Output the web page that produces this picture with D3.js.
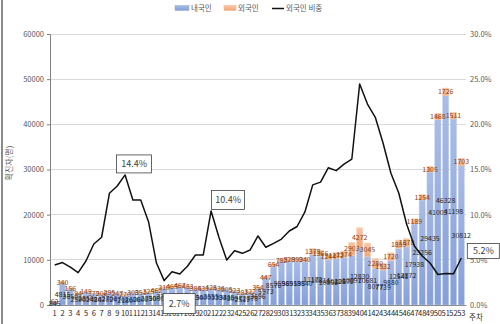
<!DOCTYPE html>
<html><head><meta charset="utf-8">
<script src="https://cdn.jsdelivr.net/npm/d3@7"></script>
<style>
html,body{margin:0;padding:0;background:#fff;}
svg{display:block;font-family:"Noto Sans CJK KR","Noto Sans",sans-serif;}
</style></head><body>
<svg id="c" width="500" height="324"></svg>
<script>
const weeks = d3.range(1, 54).map(String);
const domestic = [845,4815,3650,2590,2850,2480,2420,2700,2470,2180,2600,2600,2750,3080,3740,3820,4113,3797,3450,3400,3555,3394,3385,3097,2519,2778,3696,5973,8576,9558,9651,9588,9540,11172,10814,10056,10328,10576,10997,12830,10681,8077,7739,9880,12541,12872,17938,23256,29435,41003,46328,41198,30812];
const foreign = [62,340,156,94,149,179,206,295,247,270,308,351,325,462,310,465,467,483,385,431,425,436,305,223,281,322,354,447,654,782,829,892,940,1378,1366,1244,1272,1374,2903,4272,3045,2280,1532,1720,1859,1878,1189,1254,1305,1468,1726,1511,1703];
const ratio = [4.43,4.7,4.2,3.58,4.87,6.75,7.5,12.37,13.17,14.4,11.62,11.62,9.22,4.68,2.7,3.69,3.43,4.32,5.54,5.54,10.4,7.5,4.98,6.01,5.72,6.09,7.64,6.39,6.83,7.3,8.19,8.69,10.3,13.3,13.6,15.2,14.87,15.6,16.16,24.47,22.25,20.78,17.9,14.58,12.4,8.97,6.53,5.42,4.65,3.38,3.49,3.45,5.2];
const leftTicks = [0,10000,20000,30000,40000,50000,60000];
const rightTicks = [0,5,10,15,20,25,30];
const seriesNames = ["내국인","외국인","외국인 비중"];
const callouts = [{i:9,dx:9,dy:-11,w:35,h:18},{i:14,dx:15,dy:23,w:32,h:20},{i:20,dx:17,dy:-11,w:33,h:19},{i:52,dx:22,dy:-7,w:32,h:15}];

const svg = d3.select("#c");
const L=50,R=466,T=34,B=305;
const x = d3.scaleBand().domain(weeks).range([L,R]).padding(0.2);
const y = d3.scaleLinear().domain([0,60000]).range([B,T]);
const y2 = d3.scaleLinear().domain([0,30]).range([B,T]);

const defs = svg.append("defs");
const gb = defs.append("linearGradient").attr("id","gb").attr("x1",0).attr("y1",0).attr("x2",0).attr("y2",1);
gb.append("stop").attr("offset",0).attr("stop-color","#a9bce6");
gb.append("stop").attr("offset",1).attr("stop-color","#859fd8");
const go = defs.append("linearGradient").attr("id","go").attr("x1",0).attr("y1",0).attr("x2",0).attr("y2",1);
go.append("stop").attr("offset",0).attr("stop-color","#f8c6a4");
go.append("stop").attr("offset",1).attr("stop-color","#f1a676");

// frame line
svg.append("line").attr("x1",2).attr("x2",2).attr("y1",0).attr("y2",324).attr("stroke","#8c8c8c").attr("stroke-width",2);

// gridlines
svg.append("g").selectAll("line").data(leftTicks.slice(1)).join("line")
  .attr("x1",L).attr("x2",R).attr("y1",d=>y(d)).attr("y2",d=>y(d))
  .attr("stroke","#d9d9d9").attr("stroke-width",1).attr("shape-rendering","crispEdges");

// left axis
const ga = svg.append("g").attr("transform",`translate(${L},0)`)
  .call(d3.axisLeft(y).tickValues(leftTicks).tickSize(3).tickPadding(3).tickFormat(d3.format("d")));
ga.select(".domain").attr("stroke","#7f7f7f");
ga.selectAll(".tick line").attr("stroke","#7f7f7f");
ga.selectAll("text").attr("font-size","7.5px").attr("fill","#595959").attr("font-family","'Noto Sans CJK KR',sans-serif");

// right axis
const gr = svg.append("g").attr("transform",`translate(${R},0)`)
  .call(d3.axisRight(y2).tickValues(rightTicks).tickSize(0).tickPadding(4).tickFormat(d=>d.toFixed(1)+"%"));
gr.select(".domain").remove();
gr.selectAll("text").attr("font-size","7.5px").attr("fill","#595959").attr("font-family","'Noto Sans CJK KR',sans-serif");

// bars
const bars = svg.append("g");
bars.selectAll("rect.d").data(weeks).join("rect").attr("class","d")
  .attr("x",w=>x(w)).attr("width",x.bandwidth())
  .attr("y",(w,i)=>y(domestic[i])).attr("height",(w,i)=>y(0)-y(domestic[i]))
  .attr("fill","url(#gb)").attr("stroke","#c9d5ef").attr("stroke-width",0.4);
bars.selectAll("rect.f").data(weeks).join("rect").attr("class","f")
  .attr("x",w=>x(w)).attr("width",x.bandwidth())
  .attr("y",(w,i)=>y(domestic[i]+foreign[i])).attr("height",(w,i)=>y(domestic[i])-y(domestic[i]+foreign[i]))
  .attr("fill","url(#go)").attr("stroke","#f9d3b8").attr("stroke-width",0.4);

// x axis
const gx = svg.append("g").attr("transform",`translate(0,${B})`)
  .call(d3.axisBottom(x).tickSize(0).tickPadding(6));
gx.select(".domain").attr("stroke","#8c8c8c");
gx.selectAll("text").attr("font-size","7.5px").attr("fill","#262626").attr("font-family","'Noto Sans CJK KR',sans-serif");
svg.append("text").attr("x",R+3).attr("y",B+14.5).attr("font-size","7.5px").attr("fill","#262626").text("주차");

// labels
const lab = svg.append("g").attr("font-size","7px").attr("text-anchor","middle");
lab.selectAll("text.d").data(weeks).join("text").attr("class","d")
  .attr("x",w=>x(w)+x.bandwidth()/2).attr("y",(w,i)=>y(domestic[i]/2)+2.5)
  .attr("fill","#262626").text((w,i)=>domestic[i]);
lab.selectAll("text.f").data(weeks).join("text").attr("class","f")
  .attr("x",w=>x(w)+x.bandwidth()/2).attr("y",(w,i)=>y(domestic[i]+foreign[i]/2)+2.5)
  .attr("fill","#8a4316").text((w,i)=>foreign[i]);

// line
const line = d3.line().x((d,i)=>x(weeks[i])+x.bandwidth()/2).y(d=>y2(d));
svg.append("path").datum(ratio).attr("d",line).attr("fill","none").attr("stroke","#111").attr("stroke-width",1.5).attr("stroke-linejoin","round");

// callouts
const cg = svg.append("g");
callouts.forEach(c=>{
  const px = x(weeks[c.i])+x.bandwidth()/2+c.dx, py = y2(ratio[c.i])+c.dy;
  cg.append("rect").attr("x",px-c.w/2).attr("y",py-c.h/2).attr("width",c.w).attr("height",c.h)
    .attr("fill","#fff").attr("stroke","#404040").attr("stroke-width",0.8);
  cg.append("text").attr("x",px).attr("y",py+3.3).attr("text-anchor","middle").attr("font-size","9px").attr("fill","#404040")
    .text(ratio[c.i].toFixed(1)+"%");
});

// y title
svg.append("text").attr("transform","translate(12,163) rotate(-90)").attr("text-anchor","middle")
  .attr("font-size","8px").attr("fill","#595959").text("확진자(명)");

// legend
const lg = svg.append("g").attr("font-size","7.5px").attr("fill","#595959");
lg.append("rect").attr("x",175).attr("y",5.5).attr("width",14).attr("height",5).attr("fill","url(#gb)").attr("stroke","#8faadc").attr("stroke-width",0.5);
lg.append("text").attr("x",191).attr("y",11).text(seriesNames[0]);
lg.append("rect").attr("x",224).attr("y",5.5).attr("width",12).attr("height",5).attr("fill","url(#go)").attr("stroke","#f4b183").attr("stroke-width",0.5);
lg.append("text").attr("x",238).attr("y",11).text(seriesNames[1]);
lg.append("line").attr("x1",272).attr("x2",284).attr("y1",8.5).attr("y2",8.5).attr("stroke","#111").attr("stroke-width",1.5);
lg.append("text").attr("x",286).attr("y",11).text(seriesNames[2]);
</script>
</body></html>
